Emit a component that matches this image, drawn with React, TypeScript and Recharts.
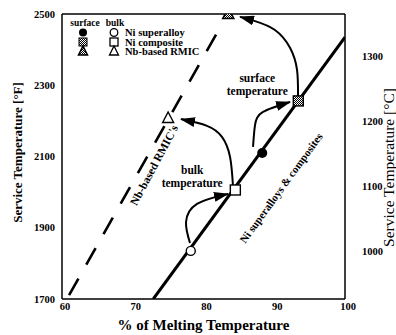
import React from 'react';
import { ComposedChart, Line, Scatter, XAxis, YAxis, ReferenceLine, Label } from 'recharts';

const FONT = '"Liberation Serif", "Times New Roman", serif';

// axis ticks
const xTicks = [60, 70, 80, 90, 100];
const fTicks = [1700, 1900, 2100, 2300, 2500];
const cTicks = [1000, 1100, 1200, 1300];
const fDomain = [1700, 2500];
const cDomain = [927, 1365];

// trend lines (x = % of melting temperature, y = °F)
const niLine = [{ x: 72.9, y: 1700 }, { x: 100, y: 2435 }];
const nbLine = [{ x: 61.0, y: 1711 }, { x: 82.0, y: 2450 }];

// material points
const niSuperalloyBulk = [{ x: 78.2, y: 1835 }];
const niSuperalloySurface = [{ x: 88.3, y: 2110 }];
const niCompositeBulk = [{ x: 84.5, y: 2006 }];
const niCompositeSurface = [{ x: 93.4, y: 2256 }];
const nbRmicBulk = [{ x: 75.0, y: 2208 }];
const nbRmicSurface = [{ x: 83.5, y: 2500 }];

// curved arrows between materials
const arrowBulkShort = [
  { x: 78.09, y: 1857 },
  { x: 77.53, y: 1916 },
  { x: 79.08, y: 1967 },
  { x: 83.46, y: 1995 },
];
const arrowBulkLong = [
  { x: 84.17, y: 2017 },
  { x: 83.75, y: 2099 },
  { x: 82.61, y: 2155 },
  { x: 80.49, y: 2186 },
  { x: 76.82, y: 2205 },
];
const arrowSurfShort = [
  { x: 87.0, y: 2127 },
  { x: 87.28, y: 2188 },
  { x: 88.41, y: 2225 },
  { x: 92.23, y: 2253 },
];
const arrowSurfLong = [
  { x: 93.36, y: 2270 },
  { x: 93.22, y: 2343 },
  { x: 92.23, y: 2405 },
  { x: 90.1, y: 2455 },
  { x: 87.28, y: 2480 },
  { x: 85.16, y: 2492 },
];

// annotation anchors
const bulkLabel = [{ x: 78.4, y: 2044, lines: ['bulk', 'temperature'] }];
const surfLabel = [{ x: 87.6, y: 2303, lines: ['surface', 'temperature'] }];
const nbLabel = [{ x: 73.0, y: 2076, text: "Nb-based RMIC's" }];
const niLabel = [{ x: 90.95, y: 2012, text: 'Ni superalloys & composites' }];

const tickStyle = { fill: '#000', fontSize: 10.5, fontWeight: 700, fontFamily: FONT };

const XTick = (p: any) => (
  <text x={p.x + 3} y={p.y} dy="0.71em" textAnchor="middle" {...tickStyle}>
    {p.payload.value}
  </text>
);

const OpenCircle = (p: any) => (
  <circle cx={p.cx} cy={p.cy} r={4.5} fill="#fff" stroke="#000" strokeWidth={1.4} />
);
const FilledCircle = (p: any) => <circle cx={p.cx} cy={p.cy} r={5} fill="#000" />;
const OpenSquare = (p: any) => (
  <rect x={p.cx - 5} y={p.cy - 5} width={10} height={10} fill="#fff" stroke="#000" strokeWidth={1.4} />
);
const HatchSquare = (p: any) => (
  <rect x={p.cx - 5} y={p.cy - 5} width={10} height={10} fill="url(#hatch)" stroke="#000" strokeWidth={1.4} />
);
const OpenTriangle = (p: any) => (
  <path
    d={`M${p.cx},${p.cy - 6} L${p.cx + 5.5},${p.cy + 4.5} L${p.cx - 5.5},${p.cy + 4.5} Z`}
    fill="#fff"
    stroke="#000"
    strokeWidth={1.4}
  />
);
const HatchTriangle = (p: any) => (
  <path
    d={`M${p.cx},${p.cy - 6} L${p.cx + 5.5},${p.cy + 4.5} L${p.cx - 5.5},${p.cy + 4.5} Z`}
    fill="url(#hatch)"
    stroke="#000"
    strokeWidth={1.6}
  />
);

const TwoLineText = (p: any) => (
  <text x={p.cx} y={p.cy} textAnchor="middle" fontFamily={FONT} fontWeight={700} fontSize={11.5} fill="#000">
    <tspan x={p.cx} dy="-0.2em">{p.payload.lines[0]}</tspan>
    <tspan x={p.cx} dy="1.15em">{p.payload.lines[1]}</tspan>
  </text>
);
const rotatedText = (angle: number, size: number) => (p: any) => (
  <text
    x={p.cx}
    y={p.cy}
    textAnchor="middle"
    dominantBaseline="central"
    fontFamily={FONT}
    fontWeight={700}
    fontSize={size}
    fill="#000"
    transform={`rotate(${angle} ${p.cx} ${p.cy})`}
  >
    {p.payload.text}
  </text>
);

// symbol key: surface (filled / hatched) vs bulk (open) markers
const MaterialLegend = () => (
  <svg width={135} height={48} style={{ position: 'absolute', left: 68, top: 15 }}>
    <g fontFamily={FONT} fontWeight={700} fill="#000">
      <text x={17} y={11} textAnchor="middle" fontSize={9.5}>surface</text>
      <text x={47} y={11} textAnchor="middle" fontSize={9.5}>bulk</text>
      <g fontSize={10.5}>
        <circle cx={15} cy={17.5} r={4} fill="#000" />
        <circle cx={46} cy={17.5} r={3.8} fill="#fff" stroke="#000" strokeWidth={1.3} />
        <text x={57} y={21}>Ni superalloy</text>
        <rect x={11} y={23} width={8} height={8} fill="url(#hatch)" stroke="#000" strokeWidth={1} />
        <rect x={42} y={23} width={8} height={8} fill="#fff" stroke="#000" strokeWidth={1.3} />
        <text x={57} y={30.5}>Ni composite</text>
        <path d="M15,31 L19.5,40 L10.5,40 Z" fill="url(#hatch)" stroke="#000" strokeWidth={1.5} />
        <path d="M46,31 L50.5,40 L41.5,40 Z" fill="#fff" stroke="#000" strokeWidth={1.3} />
        <text x={57} y={40}>Nb-based RMIC</text>
      </g>
    </g>
  </svg>
);

export default function App() {
  return (
    <div style={{ position: 'absolute', left: 0, top: 0, width: 396, height: 335, background: '#fff' }}>
      <svg width={0} height={0} style={{ position: 'absolute' }}>
        <defs>
          <pattern id="hatch" width={2} height={2} patternUnits="userSpaceOnUse">
            <rect width={2} height={2} fill="#fff" />
            <rect width={1} height={1} fill="#000" />
            <rect x={1} y={1} width={1} height={1} fill="#000" />
          </pattern>
          <marker
            id="arrowHead"
            viewBox="0 0 15 10"
            refX={14}
            refY={5}
            markerWidth={15}
            markerHeight={10}
            markerUnits="userSpaceOnUse"
            orient="auto"
          >
            <path d="M0,0 L15,5 L0,10 Z" fill="#000" />
          </marker>
        </defs>
      </svg>
      <ComposedChart width={396} height={335} margin={{ top: 14, right: 0, bottom: 0, left: 0 }}>
        <XAxis
          type="number"
          dataKey="x"
          domain={[60, 100]}
          ticks={xTicks}
          allowDataOverflow
          height={36}
          tickSize={0}
          tickMargin={4}
          tick={XTick}
          axisLine={{ stroke: '#000', strokeWidth: 1.5 }}
        >
          <Label
            content={(props: any) => {
              const vb = props.viewBox;
              return (
                <text
                  x={vb.x + vb.width / 2}
                  y={vb.y + 31}
                  textAnchor="middle"
                  fontFamily={FONT}
                  fontWeight={700}
                  fontSize={15}
                  fill="#000"
                >
                  % of Melting Temperature
                </text>
              );
            }}
          />
        </XAxis>
        <YAxis
          yAxisId="f"
          type="number"
          dataKey="y"
          domain={fDomain}
          ticks={fTicks}
          allowDataOverflow
          width={62}
          tickSize={0}
          tickMargin={7}
          tick={tickStyle}
          axisLine={{ stroke: '#000', strokeWidth: 1.5 }}
        >
          <Label
            content={(props: any) => {
              const vb = props.viewBox;
              const cx = vb.x + 17;
              const cy = vb.y + vb.height / 2 - 4;
              return (
                <text
                  x={cx}
                  y={cy}
                  textAnchor="middle"
                  dominantBaseline="central"
                  transform={`rotate(-90 ${cx} ${cy})`}
                  fontFamily={FONT}
                  fontWeight={700}
                  fontSize={13}
                  fill="#000"
                >
                  Service Temperature [°F]
                </text>
              );
            }}
          />
        </YAxis>
        <YAxis
          yAxisId="c"
          orientation="right"
          type="number"
          domain={cDomain}
          ticks={cTicks}
          allowDataOverflow
          width={51}
          tickSize={0}
          tickMargin={17}
          tick={tickStyle}
          axisLine={{ stroke: '#000', strokeWidth: 1.5 }}
        >
          <Label
            content={(props: any) => {
              const vb = props.viewBox;
              const cx = vb.x + 43;
              const cy = vb.y + vb.height / 2 + 11;
              return (
                <text
                  x={cx}
                  y={cy}
                  textAnchor="middle"
                  dominantBaseline="central"
                  transform={`rotate(-90 ${cx} ${cy})`}
                  fontFamily={FONT}
                  fontSize={15.5}
                  fill="#000"
                >
                  Service Temperature [°C]
                </text>
              );
            }}
          />
        </YAxis>
        <ReferenceLine yAxisId="f" y={2500} stroke="#000" strokeWidth={1.5} />

        <Line yAxisId="f" data={nbLine} dataKey="y" stroke="#000" strokeWidth={2.6} strokeDasharray="19 16" dot={false} isAnimationActive={false} />
        <Line yAxisId="f" data={niLine} dataKey="y" stroke="#000" strokeWidth={3} dot={false} isAnimationActive={false} />

        <Line yAxisId="f" data={arrowBulkShort} dataKey="y" type="natural" stroke="#000" strokeWidth={2} dot={false} markerEnd="url(#arrowHead)" isAnimationActive={false} />
        <Line yAxisId="f" data={arrowBulkLong} dataKey="y" type="natural" stroke="#000" strokeWidth={2} dot={false} markerEnd="url(#arrowHead)" isAnimationActive={false} />
        <Line yAxisId="f" data={arrowSurfShort} dataKey="y" type="natural" stroke="#000" strokeWidth={2} dot={false} markerEnd="url(#arrowHead)" isAnimationActive={false} />
        <Line yAxisId="f" data={arrowSurfLong} dataKey="y" type="natural" stroke="#000" strokeWidth={2} dot={false} markerEnd="url(#arrowHead)" isAnimationActive={false} />

        <Scatter yAxisId="f" data={niSuperalloyBulk} dataKey="y" shape={OpenCircle} isAnimationActive={false} />
        <Scatter yAxisId="f" data={niSuperalloySurface} dataKey="y" shape={FilledCircle} isAnimationActive={false} />
        <Scatter yAxisId="f" data={niCompositeBulk} dataKey="y" shape={OpenSquare} isAnimationActive={false} />
        <Scatter yAxisId="f" data={niCompositeSurface} dataKey="y" shape={HatchSquare} isAnimationActive={false} />
        <Scatter yAxisId="f" data={nbRmicBulk} dataKey="y" shape={OpenTriangle} isAnimationActive={false} />
        <Scatter yAxisId="f" data={nbRmicSurface} dataKey="y" shape={HatchTriangle} isAnimationActive={false} />

        <Scatter yAxisId="f" data={bulkLabel} dataKey="y" shape={TwoLineText} isAnimationActive={false} />
        <Scatter yAxisId="f" data={surfLabel} dataKey="y" shape={TwoLineText} isAnimationActive={false} />
        <Scatter yAxisId="f" data={nbLabel} dataKey="y" shape={rotatedText(-62, 11.5)} isAnimationActive={false} />
        <Scatter yAxisId="f" data={niLabel} dataKey="y" shape={rotatedText(-54, 11)} isAnimationActive={false} />
      </ComposedChart>
      <MaterialLegend />
    </div>
  );
}
